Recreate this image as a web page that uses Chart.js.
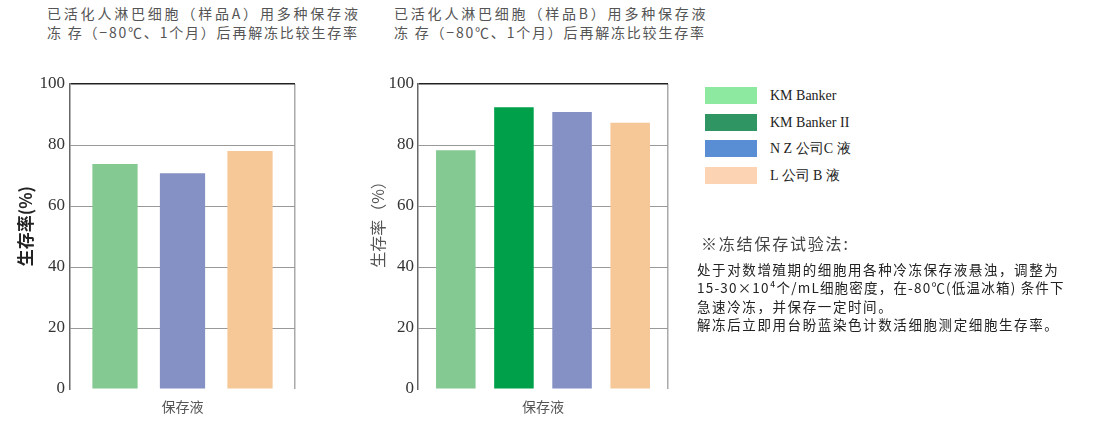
<!DOCTYPE html>
<html>
<head>
<meta charset="utf-8">
<script src="https://cdn.jsdelivr.net/npm/chart.js@4/dist/chart.umd.min.js"></script>
<style>
  body { margin: 0; background: #fff; width: 1097px; height: 429px; position: relative; overflow: hidden; font-family: "Noto Sans CJK SC", sans-serif; }
  .title { position: absolute; font-size: 14px; line-height: 19px; color: #555; white-space: nowrap; }
  .title .l1 { letter-spacing: 2.8px; }
  .title .l2 { letter-spacing: 1.8px; }
  .box { position: absolute; top: 0; height: 429px; }
  #legend { position: absolute; left: 705px; top: 87px; }
  .row { height: 26.5px; display: flex; align-items: flex-start; }
  .sw { width: 52px; height: 17px; }
  .lab { margin-left: 13px; font-family: "Liberation Serif", serif; font-size: 14px; color: #222; line-height: 17px; white-space: nowrap; }
  #note-h { position: absolute; left: 701px; top: 231px; font-size: 16px; color: #444; letter-spacing: 1.8px; white-space: nowrap; }
  #note { position: absolute; left: 697px; top: 260px; font-size: 13.5px; line-height: 18.3px; color: #222; letter-spacing: 1.6px; white-space: nowrap; }
  #note .tight { letter-spacing: 1.2px; }
</style>
</head>
<body>
<div class="title" style="left:47px; top:4px;"><span class="l1">已活化人淋巴细胞（样品A）用多种保存液</span><br><span class="l2">冻 存（−80℃、1个月）后再解冻比较生存率</span></div>
<div class="title" style="left:394px; top:4px;"><span class="l1">已活化人淋巴细胞（样品B）用多种保存液</span><br><span class="l2">冻 存（−80℃、1个月）后再解冻比较生存率</span></div>

<div class="box" style="left:0; width:310px;"><canvas id="chartA"></canvas></div>
<div class="box" style="left:350px; width:350px;"><canvas id="chartB"></canvas></div>

<div id="legend"></div>
<div id="note-h">※冻结保存试验法:</div>
<div id="note">处于对数增殖期的细胞用各种冷冻保存液悬浊，调整为<br><span class="tight">15-30×10⁴个/mL细胞密度，在-80℃(低温冰箱) 条件下</span><br>急速冷冻，并保存一定时间。<br>解冻后立即用台盼蓝染色计数活细胞测定细胞生存率。</div>

<script>
// 数据
const categories = ['保存液'];
const yTicks = [0, 20, 40, 60, 80, 100];

const namesA = ['KM Banker', 'N Z 公司C 液', 'L 公司 B 液'];
const valuesA = [73.8, 70.7, 78.0];
const colorsA = ['#84c991', '#8591c4', '#f6c797'];

const namesB = ['KM Banker', 'KM Banker II', 'N Z 公司C 液', 'L 公司 B 液'];
const valuesB = [78.3, 92.4, 90.8, 87.3];
const colorsB = ['#84c991', '#00a04a', '#8591c4', '#f6c797'];

const legendNames = ['KM Banker', 'KM Banker II', 'N Z 公司C 液', 'L 公司 B 液'];
const legendColors = ['#8de9a0', '#2f9563', '#5a8ed4', '#fcd4b4'];

function buildLegend() {
    const el = document.getElementById('legend');
    el.innerHTML = legendNames.map((name, i) => `
        <div class="row">
            <div class="sw" style="background:${legendColors[i]}"></div>
            <div class="lab">${name}</div>
        </div>`).join('');
}

function makeChart(canvasId, names, values, colors, opts) {
    const ctx = document.getElementById(canvasId).getContext('2d');
    return new Chart(ctx, {
        type: 'bar',
        data: {
            labels: categories,
            datasets: names.map((name, i) => ({
                label: name,
                data: [values[i]],
                backgroundColor: colors[i],
                borderWidth: 0,
                categoryPercentage: opts.catPct,
                barPercentage: opts.barPct,
            }))
        },
        options: {
            responsive: true,
            maintainAspectRatio: false,
            animation: false,
            layout: { padding: { top: 84, right: opts.right, bottom: 0, left: 0 } },
            plugins: { legend: { display: false }, tooltip: { enabled: false } },
            scales: {
                x: {
                    afterFit: s => { s.height = 40; },
                    border: { display: false },
                    grid: {
                        offset: true,
                        drawTicks: false,
                        color: c => c.index === 0 ? 'rgba(0,0,0,0)' : '#aaa',
                        lineWidth: 1.5,
                    },
                    ticks: {
                        padding: 9,
                        color: '#555',
                        font: { family: "'Noto Sans CJK SC'", size: 14 }
                    }
                },
                y: {
                    min: 0,
                    max: 100,
                    afterFit: s => { s.width = opts.axisW; },
                    afterBuildTicks: s => { s.ticks = yTicks.map(v => ({ value: v })); },
                    border: { color: '#666', width: 1.5 },
                    grid: {
                        drawTicks: false,
                        color: c => c.tick.value === 100 ? '#222' : (c.tick.value === 0 ? 'rgba(0,0,0,0)' : '#999'),
                        lineWidth: c => c.tick.value === 100 ? 1.5 : 1,
                    },
                    ticks: {
                        padding: opts.tickPad,
                        color: '#333',
                        font: { family: "'Liberation Serif'", size: 17 }
                    },
                    title: {
                        display: true,
                        text: opts.yTitle,
                        color: opts.titleColor,
                        padding: { top: opts.titlePad, bottom: 0 },
                        font: { family: "'Noto Sans CJK SC'", size: opts.titleSize, weight: opts.titleWeight }
                    }
                }
            }
        }
    });
}

buildLegend();
makeChart('chartA', namesA, valuesA, colorsA, {
    catPct: 0.9, barPct: 0.67, right: 15, axisW: 70, tickPad: 5,
    yTitle: '\u3000 生存率(%)', titleColor: '#222', titlePad: 15, titleWeight: 'bold', titleSize: 17
});
makeChart('chartB', namesB, valuesB, colorsB, {
    catPct: 0.93, barPct: 0.68, right: 32, axisW: 68, tickPad: 4,
    yTitle: '\u3000\u3000生存率（%）', titleColor: '#555', titlePad: 18, titleWeight: 'normal', titleSize: 16
});
</script>
</body>
</html>
